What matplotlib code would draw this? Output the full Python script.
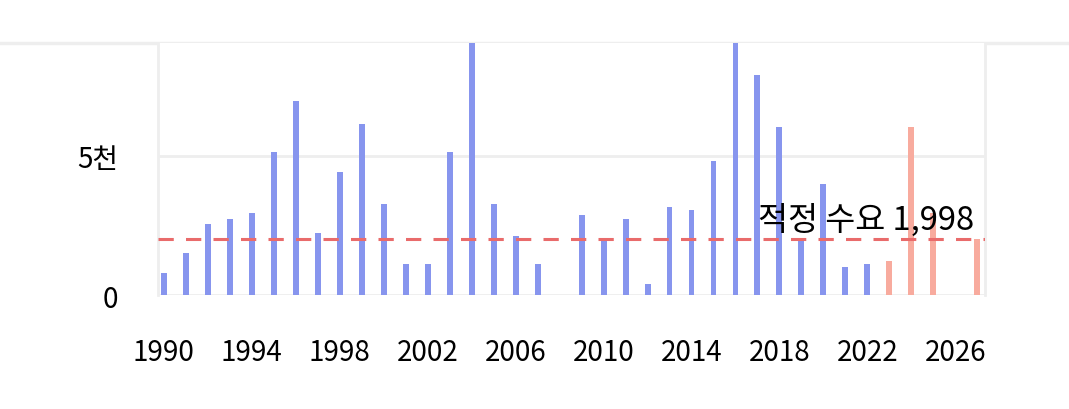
import matplotlib.pyplot as plt
from matplotlib.lines import Line2D

plt.rcParams['font.family'] = ['Noto Sans CJK KR', 'DejaVu Sans']

# past values (blue) and projected values (salmon)
years = [1990, 1991, 1992, 1993, 1994, 1995, 1996, 1997, 1998, 1999,
         2000, 2001, 2002, 2003, 2004, 2005, 2006, 2007, 2009, 2010,
         2011, 2012, 2013, 2014, 2015, 2016, 2017, 2018, 2019, 2020,
         2021, 2022]
values = [800, 1500, 2550, 2750, 2960, 5130, 6990, 2240, 4410, 6160,
          3280, 1110, 1110, 5130, 9400, 3280, 2130, 1110, 2860, 1940,
          2750, 390, 3170, 3070, 4820, 9400, 7920, 6050, 2020, 4000,
          1000, 1110]
future_years = [2023, 2024, 2025, 2027]
future_values = [1220, 6050, 2950, 2020]
target = 1998
ytick_vals = [0, 5000]
ytick_labels = ['0', '5천']
xtick_vals = list(range(1990, 2027, 4))

fig = plt.figure(figsize=(10.69, 4.10), dpi=100)
ax = fig.add_axes([0.1478, 0.278, 0.7736, 0.6146])

ax.bar(years, values, width=0.27, color='#8795ee', zorder=2)
ax.bar(future_years, future_values, width=0.27, color='#f8ab9e', zorder=2)
ax.axhline(target, color='#e96b6b', lw=2.2, dashes=(5, 4), zorder=3)
ax.text(2026.85, target + 130, f'적정 수요 {target:,}', ha='right', va='bottom',
        fontsize=23.5, color='black', zorder=4)

ax.set_xlim(1989.73, 2027.35)
ax.set_ylim(0, 9060)
ax.set_yticks(ytick_vals)
ax.set_yticklabels(ytick_labels)
ax.set_xticks(xtick_vals)
ax.set_xticklabels([str(y) for y in xtick_vals])
ax.tick_params(axis='both', length=0, labelsize=20)
ax.tick_params(axis='x', pad=30)
ax.tick_params(axis='y', pad=29)
ax.grid(axis='y', color='#eeeeee', lw=2, zorder=0)
for side in ['top', 'bottom']:
    ax.spines[side].set_visible(False)
for side in ['left', 'right']:
    ax.spines[side].set_color('#eeeeee')
    ax.spines[side].set_linewidth(2)

# light separator across the whole figure at the top of the plot
fig.add_artist(Line2D([0, 1], [0.8927, 0.8927], color='#eeeeee', lw=2.5,
                      transform=fig.transFigure, zorder=0))

fig.savefig('out.png', dpi=100)
